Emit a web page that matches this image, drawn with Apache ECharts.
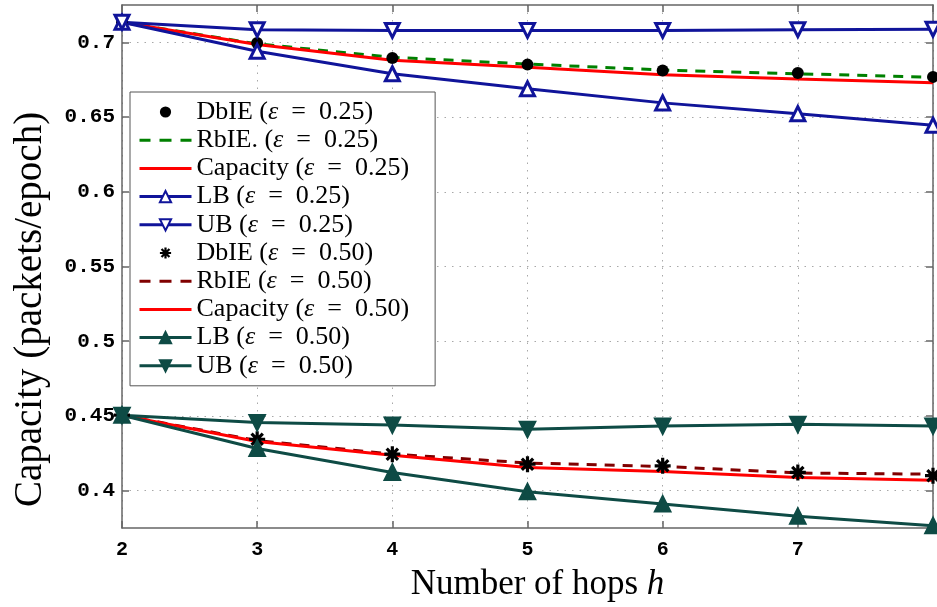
<!DOCTYPE html>
<html>
<head>
<meta charset="utf-8">
<script src="https://cdn.jsdelivr.net/npm/echarts@6/dist/echarts.min.js"></script>
<style>
html,body{margin:0;padding:0;background:#fff;}
#chart{width:937px;height:607px;}
</style>
</head>
<body>
<div id="chart"></div>
<script>
var hops = [2, 3, 4, 5, 6, 7, 8];
var yTicks = [0.4, 0.45, 0.5, 0.55, 0.6, 0.65, 0.7];

// eps = 0.25
var dbie25 = [0.7135, 0.6996, 0.6896, 0.6851, 0.6811, 0.6795, 0.6769];
var rbie25 = [0.7135, 0.6990, 0.6900, 0.6855, 0.6815, 0.6790, 0.6766];
var cap25  = [0.7135, 0.6985, 0.6880, 0.6833, 0.6784, 0.6755, 0.6729];
var lb25   = [0.7135, 0.6940, 0.6790, 0.6689, 0.6595, 0.6523, 0.6445];
var ub25   = [0.7135, 0.7085, 0.7080, 0.7080, 0.7080, 0.7085, 0.7088];
// eps = 0.50
var dbie50 = [0.4505, 0.4344, 0.4244, 0.4177, 0.4166, 0.4122, 0.4100];
var rbie50 = [0.4505, 0.4335, 0.4245, 0.4185, 0.4162, 0.4118, 0.4110];
var cap50  = [0.4505, 0.4329, 0.4237, 0.4155, 0.4128, 0.4088, 0.4070];
var lb50   = [0.4505, 0.4282, 0.4122, 0.3992, 0.3910, 0.3828, 0.3765];
var ub50   = [0.4505, 0.4456, 0.4440, 0.4411, 0.4433, 0.4444, 0.4433];

var BLUE = '#10149a', TEAL = '#0e4b45', RED = '#ff0000', GREEN = '#008000', DRED = '#800000';
var SERIF = 'Liberation Serif', MONO = 'Liberation Mono';
var ASTER = 'path://M-1.2,-6L1.2,-6L1.2,6L-1.2,6Z M-6,-1.2L6,-1.2L6,1.2L-6,1.2Z M-3.39,-5.09L5.09,3.39L3.39,5.09L-5.09,-3.39Z M-5.09,3.39L3.39,-5.09L5.09,-3.39L-3.39,5.09Z';
// legend icons for plain lines (no marker)
var SOLID_ICON = 'path://M0,0h52v3h-52z';
var DASH_ICON = 'path://M0,0h11v3h-11z M20,0h12v3h-12z M41,0h11v3h-11z';

function pts(vals) {
	var out = [];
	for (var i = 0; i < hops.length; i++) {
		out.push([hops[i], vals[i]]);
	}
	return out;
}

function markers(name, vals, symbol, size) {
	return {
		name: name, type: 'line', data: pts(vals),
		symbol: symbol, symbolSize: size, showSymbol: true,
		lineStyle: { opacity: 0, width: 0 },
		itemStyle: { color: '#000' }
	};
}

function plain(name, vals, color, dashed) {
	return {
		name: name, type: 'line', data: pts(vals),
		symbol: 'none',
		lineStyle: { color: color, width: 3, type: dashed ? [10, 8] : 'solid' },
		itemStyle: { color: color }
	};
}

function tri(name, vals, color, down, hollow) {
	return {
		name: name, type: 'line', data: pts(vals),
		symbol: 'triangle', symbolSize: 14, symbolRotate: down ? 180 : 0,
		lineStyle: { color: color, width: 3 },
		itemStyle: { color: hollow ? '#ffffff' : color, borderColor: color, borderWidth: 3 }
	};
}

var series = [
	markers('DbIE (ε = 0.25)', dbie25, 'circle', 12),
	plain('RbIE. (ε = 0.25)', rbie25, GREEN, true),
	plain('Capacity (ε = 0.25)', cap25, RED, false),
	tri('LB (ε = 0.25)', lb25, BLUE, false, true),
	tri('UB (ε = 0.25)', ub25, BLUE, true, true),
	markers('DbIE (ε = 0.50)', dbie50, ASTER, 16),
	plain('RbIE (ε = 0.50)', rbie50, DRED, true),
	plain('Capacity (ε = 0.50)', cap50, RED, false),
	tri('LB (ε = 0.50)', lb50, TEAL, false, false),
	tri('UB (ε = 0.50)', ub50, TEAL, true, false)
];

var legendData = series.map(function (s) {
	var item = { name: s.name };
	if (s.symbol === 'none') {
		item.icon = s.lineStyle.type === 'solid' ? SOLID_ICON : DASH_ICON;
	}
	return item;
});

var gridLine = { show: true, lineStyle: { color: '#a8a8a8', type: [1.5, 6], width: 1 } };
var frame = { show: true, lineStyle: { color: '#666', width: 1.5 } };
var tick = { show: true, inside: true, length: 7, lineStyle: { color: '#666', width: 1.5 } };

var option = {
	animation: false,
	backgroundColor: '#fff',
	grid: { left: 122, right: 4, top: 5, bottom: 78 },
	legend: {
		orient: 'vertical', left: 130, top: 92,
		backgroundColor: '#fff', borderColor: '#555', borderWidth: 1,
		padding: [7, 26, 7, 8],
		itemWidth: 52, itemHeight: 14, itemGap: 2.2,
		lineStyle: { width: 3 },
		data: legendData,
		formatter: function (n) { return n.replace('ε', '{e|ε}').replace(' = ', '\u2002=\u2002'); },
		textStyle: {
			fontFamily: SERIF, fontSize: 26, lineHeight: 26, color: '#000',
			rich: { e: { fontFamily: SERIF, fontSize: 26, lineHeight: 26, fontStyle: 'italic', color: '#000' } }
		}
	},
	xAxis: [{
		type: 'value', position: 'bottom', min: 2, max: 8, interval: 1,
		name: 'Number of hops {i|h}', nameLocation: 'middle', nameGap: 39,
		nameTextStyle: {
			fontFamily: SERIF, fontSize: 35, color: '#000', padding: [0, 0, 0, 20],
			rich: { i: { fontFamily: SERIF, fontSize: 35, fontStyle: 'italic', color: '#000' } }
		},
		axisLine: frame, axisTick: tick, splitLine: gridLine,
		axisLabel: {
			margin: 12, fontFamily: MONO, fontWeight: 'bold', fontSize: 20, color: '#000',
			formatter: function (v) { return v === 8 ? '' : String(v); }
		}
	}, {
		type: 'value', position: 'top', min: 2, max: 8, interval: 1,
		axisLine: frame, axisTick: tick, splitLine: { show: false }, axisLabel: { show: false }
	}],
	yAxis: [{
		type: 'value', position: 'left', min: 0.375, max: 0.725,
		name: 'Capacity (packets/epoch)', nameLocation: 'middle', nameGap: 72,
		nameTextStyle: { fontFamily: SERIF, fontSize: 39, color: '#000', padding: [0, 86, 0, 0] },
		axisLine: frame,
		axisTick: { show: true, inside: true, length: 7, lineStyle: { color: '#666', width: 1.5 }, customValues: yTicks },
		splitLine: gridLine,
		axisLabel: {
			customValues: yTicks, margin: 7, fontFamily: MONO, fontWeight: 'bold', fontSize: 21, color: '#000',
			formatter: function (v) { return String(+v.toFixed(3)); }
		}
	}, {
		type: 'value', position: 'right', min: 0.375, max: 0.725,
		axisLine: frame,
		axisTick: { show: true, inside: true, length: 7, lineStyle: { color: '#666', width: 1.5 }, customValues: yTicks },
		splitLine: { show: false }, axisLabel: { show: false }
	}],
	series: series
};

var chart = echarts.init(document.getElementById('chart'));
chart.setOption(option);
</script>
</body>
</html>
